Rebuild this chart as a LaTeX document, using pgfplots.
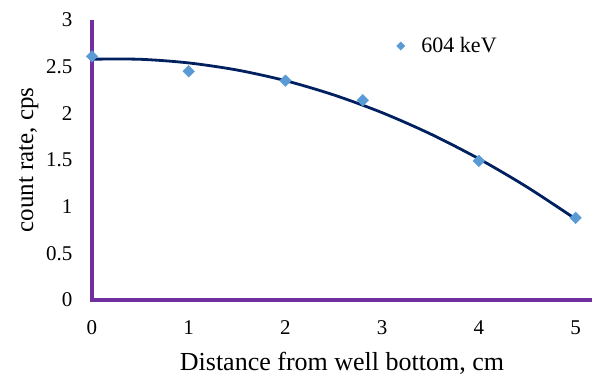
\documentclass[border=0pt]{standalone}
\usepackage{pgfplots}
\pgfplotsset{compat=1.18}
\usepackage{fontspec}
\setmainfont{Liberation Serif}
\definecolor{axpurple}{RGB}{112,48,160}
\definecolor{mkblue}{RGB}{91,155,213}
\definecolor{navy}{RGB}{0,32,96}
\begin{document}
\begin{tikzpicture}
\useasboundingbox (-92pt,-79pt) rectangle (500pt,300pt);
\begin{axis}[
  scale only axis,
  width=500pt, height=280pt,
  xmin=0, xmax=5.17, ymin=0, ymax=3,
  axis x line=bottom, axis y line=left,
  axis line style={draw=none, -},
  xtick={0,1,2,3,4,5},
  ytick={0,0.5,1,1.5,2,2.5,3},
  major tick length=0pt,
  /pgf/number format/assume math mode=true,
  yticklabel style={font=\fontsize{21}{21}\selectfont, xshift=-16pt},
  xticklabel style={font=\fontsize{21}{21}\selectfont, yshift=-17pt},
  xlabel={Distance from well bottom, cm},
  ylabel={count rate, cps},
  xlabel style={font=\fontsize{26}{26}\selectfont, yshift=-11pt},
  ylabel style={font=\fontsize{25}{25}\selectfont, yshift=1pt},
  legend style={draw=none, fill=none, at={(0.592,0.907)}, anchor=west, font=\fontsize{22}{22}\selectfont},
  legend image code/.code={\path (0cm,0cm) (0.98cm,0cm); \draw[#1, mark size=2.9pt] plot coordinates {(0.33cm,0cm)};},
  legend cell align=left,
  clip=false,
]
\draw[axpurple, line width=3.8pt] (axis cs:0,3) -- (axis cs:0,0) -- (axis cs:5.17,0);
\addplot[navy, line width=2.8pt, smooth, forget plot] coordinates {
(0,2.580) (0.5,2.579) (1,2.540) (1.5,2.464) (2,2.350) (2.5,2.197) (3,2.007) (3.5,1.779) (4,1.513) (4.5,1.209) (5,0.868)
};
\addplot[only marks, mark=square*, mark size=4.1pt, mkblue, mark options={draw=mkblue, fill=mkblue, rotate=45}] coordinates {
(0,2.61) (1,2.45) (2,2.35) (2.8,2.14) (4,1.49) (5,0.88)
};
\addlegendentry{604 keV}
\end{axis}
\end{tikzpicture}
\end{document}
